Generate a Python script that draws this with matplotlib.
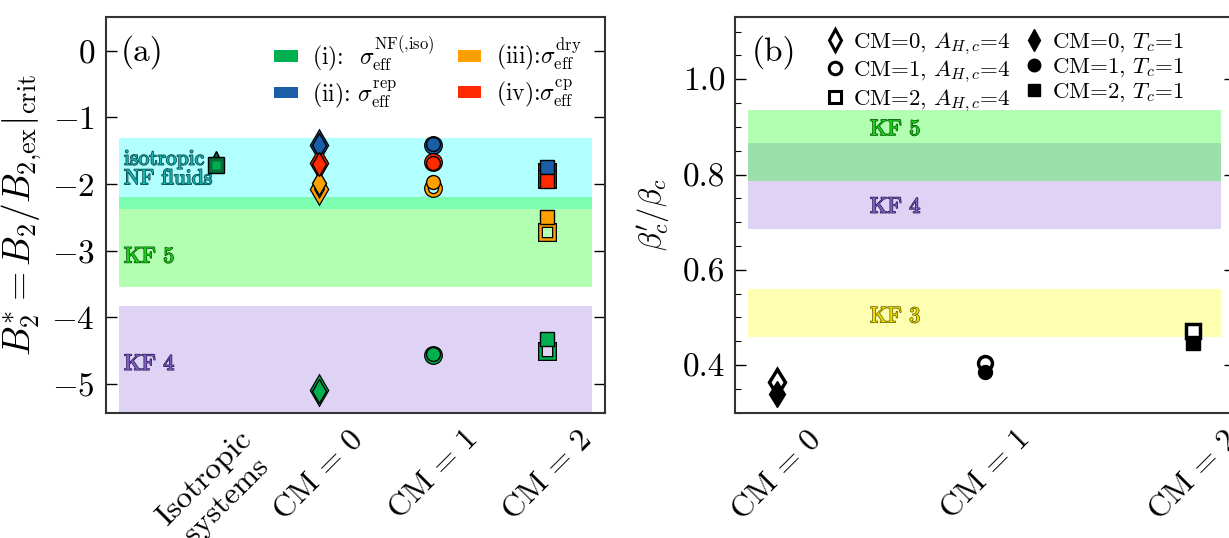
import numpy as np
import matplotlib
matplotlib.use('Agg')
import matplotlib.pyplot as plt
import matplotlib.patheffects as pe
from matplotlib.lines import Line2D
from matplotlib.patches import Patch

plt.rcParams['font.family'] = 'serif'
plt.rcParams['font.serif'] = ['cmr10', 'DejaVu Serif']
plt.rcParams['mathtext.fontset'] = 'cm'
plt.rcParams['axes.formatter.use_mathtext'] = True
plt.rcParams['axes.unicode_minus'] = False

###############################################################################
# data
# panel (a): B2* for each CM and each sigma_eff definition
cm_pos = [1, 2, 3]
cm_markers = ['d', 'o', 's']
methods = ['i', 'ii', 'iii', 'iv']
method_colors = {'i': '#00b050', 'ii': '#1a5ea8', 'iii': '#ff9f00', 'iv': '#ff2a00'}
method_labels = {
    'i': r'(i):  $\sigma_\mathrm{eff}^\mathrm{NF({,}iso)}$',
    'ii': r'(ii): $\sigma_\mathrm{eff}^\mathrm{rep}$',
    'iii': r'(iii):$\sigma_\mathrm{eff}^\mathrm{dry}$',
    'iv': r'(iv):$\sigma_\mathrm{eff}^\mathrm{cp}$',
}
# filled markers: T_c = 1, open markers: A_H,c = 4  (order CM=0,1,2)
b2_filled = {
    'i':   [-5.10, -4.55, -4.33],
    'ii':  [-1.41, -1.40, -1.75],
    'iii': [-1.98, -1.97, -2.50],
    'iv':  [-1.70, -1.68, -1.96],
}
b2_open = {
    'i':   [-5.09, -4.57, -4.50],
    'ii':  [-1.42, -1.41, -1.82],
    'iii': [-2.07, -2.06, -2.72],
    'iv':  [-1.69, -1.67, -1.93],
}
iso_pos = 0.1
iso_tri = -1.62
iso_sq = -1.72

# bands (a)
band_iso = (-2.38, -1.31)
band_kf5_a = (-3.55, -2.20)
band_kf4_a = (-6.0, -3.83)

# panel (b): beta'_c / beta_c
beta_open = [0.365, 0.404, 0.471]
beta_filled = [0.340, 0.386, 0.447]
band_kf5_b = (0.786, 0.936)
band_kf4_b = (0.685, 0.867)
band_kf3_b = (0.458, 0.560)

xticklabels_a = ['Isotropic\nsystems', r'$\mathrm{CM}\,=\,0$', r'$\mathrm{CM}\,=\,1$', r'$\mathrm{CM}\,=\,2$']
xticklabels_b = [r'$\mathrm{CM}\,=\,0$', r'$\mathrm{CM}\,=\,1$', r'$\mathrm{CM}\,=\,2$']
###############################################################################

fig = plt.figure(figsize=(12.29, 5.38), dpi=100)
ax1 = fig.add_axes([0.0862, 0.2329, 0.4061, 0.7349])
ax2 = fig.add_axes([0.5980, 0.2329, 0.4065, 0.7349])

def outlined(ax, x, y, s, fc, ec, size):
    t = ax.text(x, y, s, color=fc, fontsize=size, ha='left', va='center', zorder=3,
                linespacing=1.0)
    t.set_path_effects([pe.Stroke(linewidth=1.1, foreground=ec), pe.Normal()])
    return t

def open_marker(ax, x, y, m, ms, color):
    ax.plot(x, y, m, ms=ms, mfc='none', mec='k', mew=3.6, zorder=5)
    ax.plot(x, y, m, ms=ms, mfc='none', mec=color, mew=1.8, zorder=5)

span_kw = dict(xmin=0.027, xmax=0.973, lw=0, zorder=0)

#--- panel (a)
ax1.axhspan(*band_kf4_a, color='mediumpurple', alpha=0.3, **span_kw)
ax1.axhspan(*band_iso, color='cyan', alpha=0.3, **span_kw)
ax1.axhspan(*band_kf5_a, color='lime', alpha=0.3, **span_kw)

ax1.plot(iso_pos, iso_tri, '^', ms=12, mfc='#0a6b3a', mec='k', mew=1, zorder=5)
ax1.plot(iso_pos, iso_sq, 's', ms=11, mfc='#0a6b3a', mec='k', mew=1, zorder=5)
ax1.plot(iso_pos, iso_sq, 's', ms=6, mfc=method_colors['i'], mec='none', zorder=5)

ms_a = {'d': 12, 'o': 10, 's': 10}
for meth in methods:
    c = method_colors[meth]
    for i, x in enumerate(cm_pos):
        m = cm_markers[i]
        open_marker(ax1, x, b2_open[meth][i], m, ms_a[m], c)
        ax1.plot(x, b2_filled[meth][i], m, ms=ms_a[m], mfc=c, mec='k', mew=1, zorder=6)

outlined(ax1, -0.70, -1.77, 'isotropic\nNF fluids', '#18b5b5', '#0b4a4a', 15.5)
outlined(ax1, -0.70, -3.09, 'KF 5', '#19d319', '#0b5a0b', 16)
outlined(ax1, -0.70, -4.70, 'KF 4', '#7f5fc4', '#2e1f5a', 16)
ax1.text(0.03, 0.955, '(a)', transform=ax1.transAxes, fontsize=24, va='top', ha='left')

handles = [Patch(facecolor=method_colors[m], edgecolor='none') for m in methods]
ax1.legend(handles, [method_labels[m] for m in methods], ncol=2, loc='upper right',
           bbox_to_anchor=(0.995, 1.01), frameon=False, fontsize=17, handlelength=1.0,
           handleheight=0.35, handletextpad=0.6, columnspacing=1.0, labelspacing=0.2)

ax1.set_xlim(-0.858, 3.503)
ax1.set_ylim(-5.43, 0.5)
ax1.set_yticks([0, -1, -2, -3, -4, -5])
ax1.set_xticks([iso_pos] + cm_pos)
ax1.set_xticklabels(xticklabels_a, rotation=45, fontsize=23)
ax1.set_ylabel(r'$B_2^{*} = B_2/B_{2{,}\mathrm{ex}}|_\mathrm{crit}$', fontsize=27, labelpad=5)
ax1.tick_params(axis='y', which='major', direction='in', left=True, right=True,
                length=8, width=1, labelsize=24, pad=8)
ax1.tick_params(axis='x', length=0, pad=9)

#--- panel (b)
ax2.axhspan(*band_kf4_b, color='mediumpurple', alpha=0.3, **span_kw)
ax2.axhspan(*band_kf5_b, color='lime', alpha=0.3, **span_kw)
ax2.axhspan(*band_kf3_b, color='yellow', alpha=0.3, **span_kw)

ms_b = {'d': 13, 'o': 10, 's': 10}
for i, x in enumerate(cm_pos):
    m = cm_markers[i]
    ax2.plot(x, beta_open[i], m, ms=ms_b[m], mfc='white', mec='k', mew=2.5, zorder=5)
    ax2.plot(x, beta_filled[i], m, ms=ms_b[m], mfc='k', mec='k', mew=1, zorder=6)

outlined(ax2, 1.449, 0.895, 'KF 5', '#19d319', '#0b5a0b', 16)
outlined(ax2, 1.449, 0.732, 'KF 4', '#7f5fc4', '#2e1f5a', 16)
outlined(ax2, 1.449, 0.502, 'KF 3', '#f0e000', '#6a6000', 16)
ax2.text(0.033, 0.955, '(b)', transform=ax2.transAxes, fontsize=24, va='top', ha='left')

leg_handles = []
leg_labels = []
for i in range(3):
    leg_handles.append(Line2D([], [], ls='none', marker=cm_markers[i], ms=9 if cm_markers[i] != 'd' else 11,
                              mfc='white', mec='k', mew=2.2))
    leg_labels.append(r'CM=%d, $A_{H,c}$=4' % i)
for i in range(3):
    leg_handles.append(Line2D([], [], ls='none', marker=cm_markers[i], ms=9 if cm_markers[i] != 'd' else 11,
                              mfc='k', mec='k'))
    leg_labels.append(r'CM=%d, $T_c$=1' % i)
ax2.legend(leg_handles, leg_labels, ncol=2, loc='upper left', bbox_to_anchor=(0.14, 1.02),
           frameon=False, fontsize=16.5, handlelength=0.8, handletextpad=0.4,
           columnspacing=0.6, labelspacing=0.1)

ax2.set_xlim(0.8, 3.2)
ax2.set_ylim(0.30, 1.13)
ax2.set_yticks([0.4, 0.6, 0.8, 1.0])
ax2.set_yticks(np.arange(0.30, 1.13, 0.05), minor=True)
ax2.set_yticklabels(['0.4', '0.6', '0.8', '1.0'])
ax2.set_xticks(cm_pos)
ax2.set_xticklabels(xticklabels_b, rotation=45, fontsize=23)
ax2.set_ylabel(r"$\beta_c'/\beta_c$", fontsize=22, labelpad=8)
ax2.tick_params(axis='y', which='major', direction='in', left=True, right=True,
                length=8, width=1, labelsize=24, pad=7)
ax2.tick_params(axis='y', which='minor', direction='in', left=True, right=True,
                length=4, width=0.8)
ax2.tick_params(axis='x', which='both', length=0, pad=9)

for ax in (ax1, ax2):
    for sp in ax.spines.values():
        sp.set_linewidth(1.5)
        sp.set_color('#333333')
        sp.set_zorder(10)

plt.savefig('out.png', dpi=100)
